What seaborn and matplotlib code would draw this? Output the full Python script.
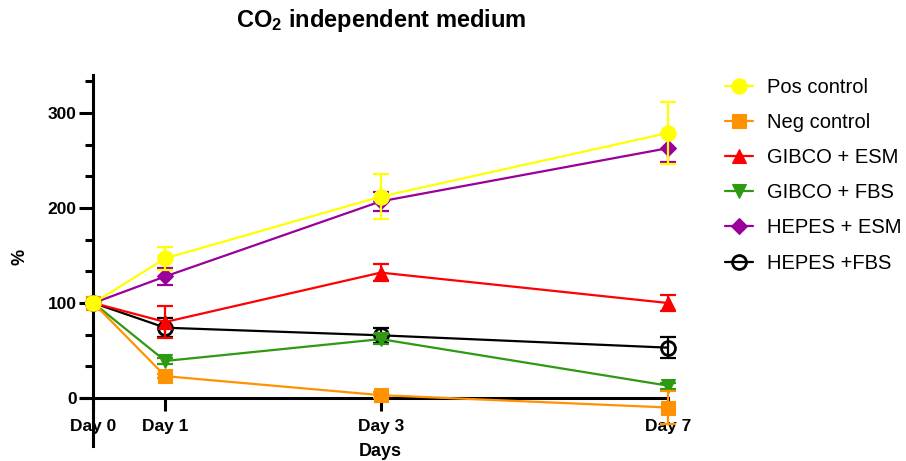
import matplotlib
matplotlib.use("Agg")
import matplotlib.pyplot as plt
import matplotlib.ticker as mticker
import numpy as np
import pandas as pd
import seaborn as sns

# ---- data -------------------------------------------------------------
day_labels = ["Day 0", "Day 1", "Day 3", "Day 7"]
day_pos = [0, 1, 4, 8]          # spacing of the sampling days on the x axis

groups = ["Pos control", "Neg control", "GIBCO + ESM",
          "GIBCO + FBS", "HEPES + ESM", "HEPES +FBS"]

pos_mean = [100, 147, 212, 279]
pos_err = [0, 12, 24, 33]
neg_mean = [100, 23, 3, -10]
neg_err = [0, 2, 3, 17]
gibco_esm_mean = [100, 80, 132, 100]
gibco_esm_err = [0, 17, 9, 8]
gibco_fbs_mean = [100, 39, 62, 13]
gibco_fbs_err = [0, 3, 5, 3]
hepes_esm_mean = [100, 128, 207, 263]
hepes_esm_err = [0, 9, 10, 15]
hepes_fbs_mean = [100, 74, 66, 53]
hepes_fbs_err = [0, 10, 8, 11]

means = [pos_mean, neg_mean, gibco_esm_mean, gibco_fbs_mean,
         hepes_esm_mean, hepes_fbs_mean]
errors = [pos_err, neg_err, gibco_esm_err, gibco_fbs_err,
          hepes_esm_err, hepes_fbs_err]

colors = ["#FFFF00", "#FF9200", "#FF0000", "#2E9A12", "#9A009A", "#000000"]
markers = ["o", "s", "^", "v", "D", "o"]
msizes = [11, 10, 10, 10, 8, 10]

df = pd.DataFrame({
    "Days": np.tile(day_pos, len(groups)),
    "value": np.concatenate(means),
    "err": np.concatenate(errors),
    "group": np.repeat(groups, len(day_pos)),
})

# ---- style ------------------------------------------------------------
sns.set_style("ticks", {"axes.edgecolor": "black", "text.color": "black",
                        "xtick.color": "black", "ytick.color": "black",
                        "axes.labelcolor": "black"})
plt.rcParams["font.family"] = ["Liberation Sans", "DejaVu Sans"]
plt.rcParams["mathtext.fontset"] = "custom"
plt.rcParams["mathtext.rm"] = "Liberation Sans"
plt.rcParams["mathtext.bf"] = "Liberation Sans:bold"

fig = plt.figure(figsize=(9.06, 4.61), dpi=100)
ax = fig.add_axes([0.0897, 0.0336, 0.6476, 0.8037])

for i, name in enumerate(groups):
    sub = df[df["group"] == name]
    z = 20 - 2 * i
    open_marker = name == "HEPES +FBS"
    sns.lineplot(
        data=sub, x="Days", y="value", ax=ax, label=name,
        color=colors[i], linewidth=1.6, marker=markers[i],
        markersize=msizes[i],
        markerfacecolor="none" if open_marker else colors[i],
        markeredgecolor=colors[i],
        markeredgewidth=2.0 if open_marker else 0.8,
        clip_on=False, zorder=z, errorbar=None,
    )
    ax.errorbar(sub["Days"], sub["value"], yerr=sub["err"], fmt="none",
                ecolor=colors[i], elinewidth=1.6, capsize=6, capthick=1.6,
                clip_on=False, zorder=z - 1)

# ---- axes -------------------------------------------------------------
ax.set_xlim(-0.17, 8)
ax.set_ylim(-50, 340)
for s in ("top", "right"):
    ax.spines[s].set_visible(False)
ax.spines["left"].set_position(("data", 0))
ax.spines["bottom"].set_position(("data", 0))
for s in ("left", "bottom"):
    ax.spines[s].set_linewidth(2.2)
    ax.spines[s].set_color("black")
    ax.spines[s].set_zorder(5)

ax.set_xticks(day_pos)
ax.set_xticklabels(day_labels, fontweight="bold", fontsize=12.5)
ax.set_yticks([0, 100, 200, 300])
ax.yaxis.set_minor_locator(mticker.FixedLocator(
    [100 / 3, 200 / 3, 400 / 3, 500 / 3, 700 / 3, 800 / 3, 1000 / 3]))
for lab in ax.get_yticklabels():
    lab.set_fontweight("bold")
    lab.set_fontsize(12.5)
ax.tick_params(axis="y", which="major", length=10, width=2.2, pad=2,
               color="black", labelcolor="black")
ax.tick_params(axis="y", which="minor", length=6, width=2.2, color="black")
ax.tick_params(axis="x", which="major", length=9, width=2.2, pad=6,
               color="black", labelcolor="black")

ax.set_xlabel("Days", fontweight="bold", fontsize=13, color="black")
ax.set_ylabel("%", fontweight="bold", fontsize=13, color="black")
ax.xaxis.label.set_va("center")
ax.xaxis.set_label_coords(0.509, -0.015)
ax.yaxis.label.set_va("center")
ax.yaxis.set_label_coords(-0.1045, 0.509)

fig.text(381 / 906, 1 - 21 / 461, r"$\mathbf{CO_2}$ independent medium",
         ha="center", va="center", fontsize=17, fontweight="bold",
         color="black")

leg = ax.legend(loc="upper left", bbox_to_anchor=(725 / 906, 1 - 78 / 461),
                bbox_transform=fig.transFigure, frameon=False, fontsize=14.5,
                handlelength=1.4, handletextpad=0.7, labelspacing=0.8,
                borderpad=0, borderaxespad=0)
for t in leg.get_texts():
    t.set_color("black")

fig.savefig("out.png", dpi=100)
